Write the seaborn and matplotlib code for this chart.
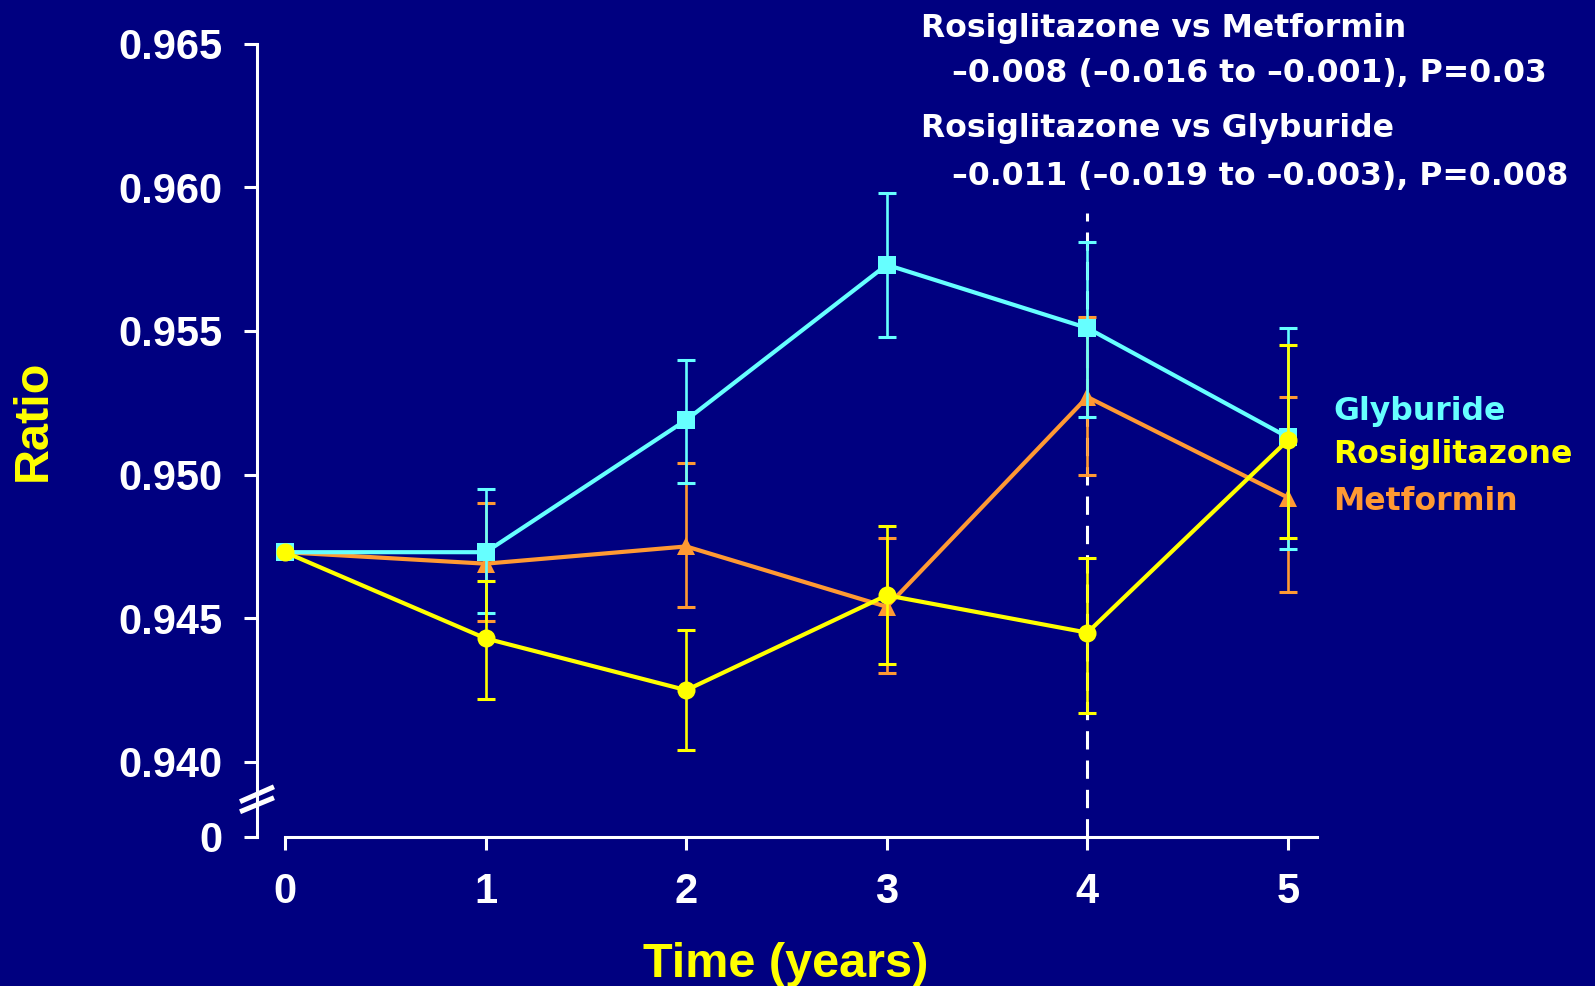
import numpy as np
import pandas as pd
import matplotlib
matplotlib.use("Agg")
import matplotlib.pyplot as plt
import seaborn as sns

# ---------------- data ----------------
years = [0, 1, 2, 3, 4, 5]
ci_years = [1, 2, 3, 4, 5]

glyburide = [0.9473, 0.9473, 0.9519, 0.9573, 0.9551, 0.9513]
glyburide_lo = [0.9452, 0.9497, 0.9548, 0.9520, 0.9474]
glyburide_hi = [0.9495, 0.9540, 0.9598, 0.9581, 0.9551]

metformin = [0.9473, 0.9469, 0.9475, 0.9454, 0.9527, 0.9492]
metformin_lo = [0.9449, 0.9454, 0.9431, 0.9500, 0.9459]
metformin_hi = [0.9490, 0.9504, 0.9478, 0.9555, 0.9527]

rosiglitazone = [0.9473, 0.9443, 0.9425, 0.9458, 0.9445, 0.9512]
rosiglitazone_lo = [0.9422, 0.9404, 0.9434, 0.9417, 0.9478]
rosiglitazone_hi = [0.9463, 0.9446, 0.9482, 0.9471, 0.9545]

y_ticks = [0.940, 0.945, 0.950, 0.955, 0.960, 0.965]
y_tick_labels = ["0.940", "0.945", "0.950", "0.955", "0.960", "0.965"]
x_ticks = [0, 1, 2, 3, 4, 5]
break_zero = 0.93739  # position standing for the "0" below the axis break
dash_x = 4
dash_top = 0.9591

annot_lines = [
    "Rosiglitazone vs Metformin",
    "\u20130.008 (\u20130.016 to \u20130.001), P=0.03",
    "Rosiglitazone vs Glyburide",
    "\u20130.011 (\u20130.019 to \u20130.003), P=0.008",
]

BG = "#000080"
CYAN = "#66FFFF"
YELLOW = "#FFFF00"
ORANGE = "#FF9933"
WHITE = "#FFFFFF"

sns.set_style("white")
plt.rcParams["font.family"] = ["Liberation Sans", "DejaVu Sans"]
plt.rcParams["font.weight"] = "bold"
WIDE = ["DejaVu Sans"]

W, H = 1595, 986
fig = plt.figure(figsize=(W / 100, H / 100), dpi=100, facecolor=BG)
ax = fig.add_axes([257 / W, 149 / H, 1060 / W, 793.5 / H])
ax.set_facecolor(BG)

series = [
    ("Metformin", metformin, metformin_lo, metformin_hi, ORANGE, "^", 3),
    ("Glyburide", glyburide, glyburide_lo, glyburide_hi, CYAN, "s", 4),
    ("Rosiglitazone", rosiglitazone, rosiglitazone_lo, rosiglitazone_hi, YELLOW, "o", 5),
]

for name, vals, lo, hi, col, mk, z in series:
    df = pd.DataFrame({"year": years, "ratio": vals})
    sns.lineplot(data=df, x="year", y="ratio", ax=ax, color=col, marker=mk,
                 markersize=13, markeredgewidth=0, linewidth=3.0,
                 zorder=z, legend=False)
    mid = np.array(vals[1:])
    ax.errorbar(ci_years, mid, yerr=[mid - np.array(lo), np.array(hi) - mid],
                fmt="none", ecolor=col, elinewidth=1.9, capsize=6.2,
                capthick=2.2, zorder=z - 0.5)

ax.vlines(dash_x, break_zero, dash_top, colors=WHITE, linewidth=2.2,
          linestyles=(0, (6, 3.6)), zorder=2)

ax.set_xlim(-0.14, 5.145)
ax.set_ylim(break_zero, 0.965)
ax.set_yticks([break_zero] + y_ticks)
ax.set_yticklabels(["0"] + y_tick_labels)
ax.set_xticks(x_ticks)
ax.set_xticklabels([str(t) for t in x_ticks])
ax.set_xlabel("")
ax.set_ylabel("")

for s in ["top", "right"]:
    ax.spines[s].set_visible(False)
for s in ["left", "bottom"]:
    ax.spines[s].set_color(WHITE)
    ax.spines[s].set_linewidth(2.2)
ax.spines["left"].set_bounds(break_zero, 0.965)
ax.spines["bottom"].set_bounds(0, 5.145)

ax.tick_params(axis="both", colors=WHITE, width=2.2, length=9.5, direction="out",
               labelsize=30, bottom=True, left=True)
ax.tick_params(axis="y", pad=15)
ax.tick_params(axis="x", pad=16)
for lab in ax.get_xticklabels() + ax.get_yticklabels():
    lab.set_fontweight("bold")
    lab.set_color(WHITE)

# axis break marks
for y0, y1 in [(0.0445, 0.0633), (0.0318, 0.0495)]:
    ax.plot([-0.016, 0.016], [y0, y1], transform=ax.transAxes, color=WHITE,
            linewidth=3.6, clip_on=False, zorder=6, solid_capstyle="butt")

# axis labels
fig.text(33 / W, 1 - 420 / H, "Ratio", rotation=90, ha="center", va="center",
         fontsize=35, fontweight="bold", color=YELLOW)
fig.text(786 / W, 1 - 976.7 / H, "Time (years)", ha="center", va="baseline",
         fontsize=35, fontweight="bold", color=YELLOW)

# annotation
annot_pos = [(920.7, 36.7), (951.7, 81.7), (920.7, 136.7), (951.7, 185.0)]
for txt, (px, py) in zip(annot_lines, annot_pos):
    fig.text(px / W, 1 - py / H, txt, ha="left", va="baseline", fontsize=22.7,
             fontweight="bold", color=WHITE, family=WIDE)

# direct labels
legend_items = [("Glyburide", CYAN, 420.0), ("Rosiglitazone", YELLOW, 463.3),
                ("Metformin", ORANGE, 510.0)]
for txt, col, py in legend_items:
    fig.text(1333 / W, 1 - py / H, txt, ha="left", va="baseline", fontsize=22.7,
             fontweight="bold", color=col, family=WIDE)

fig.savefig("out.png", dpi=100, facecolor=BG)
